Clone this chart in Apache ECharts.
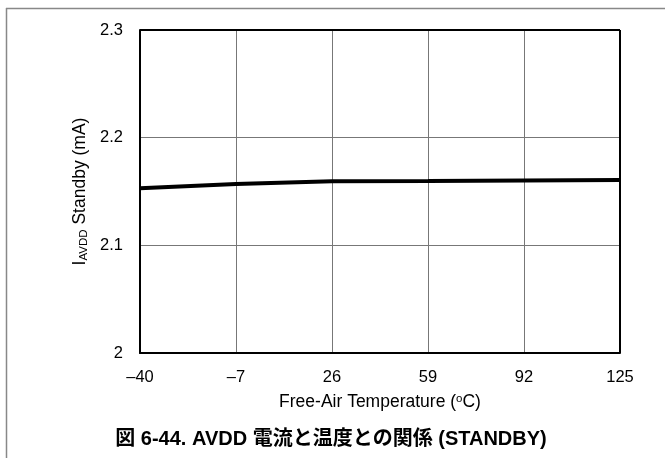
<!DOCTYPE html>
<html><head><meta charset="utf-8">
<script src="https://cdn.jsdelivr.net/npm/echarts@6/dist/echarts.min.js"></script>
<style>html,body{margin:0;padding:0;background:#fff}#c{width:665px;height:458px}</style>
</head><body><div id="c"></div>
<script>
const temps = [-40, -7, 26, 59, 92, 125];
const currentMA = [2.153, 2.157, 2.1595, 2.1598, 2.1602, 2.1606];
const xTicks = [-40, -7, 26, 59, 92, 125];
const yTicks = [2, 2.1, 2.2, 2.3];
const caption = '図 6-44. AVDD 電流と温度との関係 (STANDBY)';
const FONT = '"Liberation Sans", Arial, "Noto Sans CJK JP", sans-serif';

const chart = echarts.init(document.getElementById('c'), null, {renderer: 'canvas'});
chart.setOption({
  animation: false,
  backgroundColor: '#fff',
  grid: {left: 140, right: 45, top: 30, bottom: 105, containLabel: false},
  title: {
    text: caption, left: 326, top: 424, textAlign: 'center',
    textStyle: {fontFamily: FONT, fontSize: 20, fontWeight: 'bold', color: '#000'}
  },
  xAxis: {
    type: 'value', min: -40, max: 125, interval: 33,
    name: '{n|Free-Air Temperature (}{s|o}{n|C)}',
    nameLocation: 'middle', nameGap: 40,
    nameTextStyle: {rich: {
      n: {fontFamily: FONT, fontSize: 17.5, color: '#000'},
      s: {fontFamily: FONT, fontSize: 11.5, color: '#000', verticalAlign: 'top', padding: [0,0,6,0]}
    }},
    axisLine: {show: true, onZero: false, lineStyle: {color: '#000', width: 2}},
    axisTick: {show: false},
    axisLabel: {fontFamily: FONT, fontSize: 16.5, color: '#000', margin: 16,
      formatter: v => xTicks.includes(v) ? String(v).replace('-', '\u2013') : ''},
    splitLine: {show: true, lineStyle: {color: '#777', width: 1}}
  },
  yAxis: {
    type: 'value', min: 2, max: 2.3, interval: 0.1,
    name: '{n|I}{s|AVDD}{n| Standby (mA)}',
    nameLocation: 'middle', nameGap: 49, nameRotate: 90,
    nameTextStyle: {rich: {
      n: {fontFamily: FONT, fontSize: 17.5, color: '#000'},
      s: {fontFamily: FONT, fontSize: 11.5, color: '#000', verticalAlign: 'bottom', padding: [5,0,0,0]}
    }},
    axisLine: {show: true, onZero: false, lineStyle: {color: '#000', width: 2}},
    axisTick: {show: false},
    axisLabel: {fontFamily: FONT, fontSize: 16.5, color: '#000', margin: 17,
      formatter: v => { const t = yTicks.find(y => Math.abs(y - v) < 1e-9); return t === undefined ? '' : String(t); }},
    splitLine: {show: true, lineStyle: {color: '#777', width: 1}}
  },
  series: [{
    type: 'line', data: temps.map((t, i) => [t, currentMA[i]]),
    showSymbol: false, lineStyle: {color: '#000', width: 4}, z: 5
  }],
  graphic: [
    {type: 'line', shape: {x1: 6, y1: 8.5, x2: 665, y2: 8.5}, style: {stroke: '#888', lineWidth: 1.5}},
    {type: 'line', shape: {x1: 6.5, y1: 8, x2: 6.5, y2: 458}, style: {stroke: '#888', lineWidth: 1.5}},
    {type: 'line', shape: {x1: 620, y1: 30, x2: 620, y2: 353}, style: {stroke: '#000', lineWidth: 2}, z: 10},
    {type: 'line', shape: {x1: 140, y1: 30, x2: 620, y2: 30}, style: {stroke: '#000', lineWidth: 2}, z: 10}
  ]
});
</script></body></html>
